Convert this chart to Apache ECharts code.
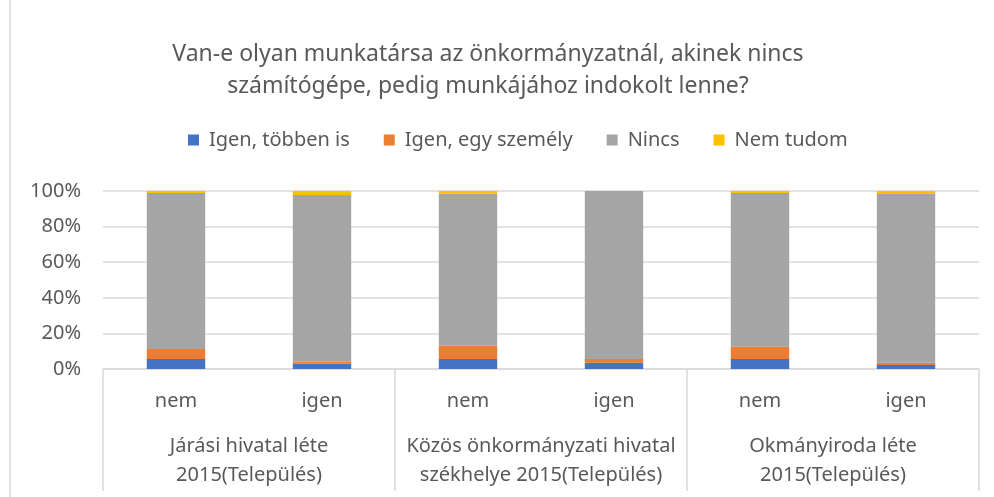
<!DOCTYPE html>
<html>
<head>
<meta charset="utf-8">
<script src="https://cdn.jsdelivr.net/npm/echarts@6/dist/echarts.min.js"></script>
<style>
  html, body { margin: 0; padding: 0; background: #fff; }
  #main { width: 994px; height: 497px; }
</style>
</head>
<body>
<div id="main"></div>
<script>
  // kategóriák
  var subLabels = ['nem', 'igen', 'nem', 'igen', 'nem', 'igen'];
  var groupLabels = ['Járási hivatal léte\n2015(Település)', 'Közös önkormányzati hivatal\nszékhelye 2015(Település)', 'Okmányiroda léte\n2015(Település)'];
  var seriesNames = ['Igen, többen is', 'Igen, egy személy', 'Nincs', 'Nem tudom'];

  // értékek (%)
  var tobbenIs = [5.6, 3.0, 5.6, 3.5, 5.6, 2.2];
  var egySzemely = [5.6, 1.1, 7.5, 2.1, 6.9, 1.3];
  var nincs = [87.7, 93.7, 85.4, 94.4, 86.4, 94.8];
  var nemTudom = [1.1, 2.2, 1.5, 0, 1.1, 1.7];

  var colors = ['#4472c4', '#ed7d31', '#a5a5a5', '#ffc000'];
  var font = 'Noto Sans';
  var txt = '#595959';

  var chart = echarts.init(document.getElementById('main'));
  var values = [tobbenIs, egySzemely, nincs, nemTudom];

  chart.setOption({
    animation: false,
    textStyle: { fontFamily: font },
    title: {
      text: 'Van-e olyan munkatársa az önkormányzatnál, akinek nincs\nszámítógépe, pedig munkájához indokolt lenne?',
      left: 483,
      top: 33,
      textAlign: 'center',
      textStyle: { color: txt, fontSize: 23, fontWeight: 'normal', fontFamily: font, lineHeight: 32 }
    },
    legend: {
      data: seriesNames,
      left: 183,
      top: 125,
      icon: 'rect',
      itemWidth: 11,
      itemHeight: 11,
      itemGap: 34,
      textStyle: { color: txt, fontSize: 20, fontFamily: font, padding: [0, 0, 0, 5] }
    },
    grid: { left: 103, right: 15, top: 191, bottom: 128 },
    graphic: [{
      type: 'line',
      shape: { x1: 10, y1: 0, x2: 10, y2: 497 },
      style: { stroke: '#d9d9d9', lineWidth: 1.5 }
    }],
    xAxis: [{
      type: 'category',
      data: subLabels,
      axisLine: { lineStyle: { color: '#d9d9d9', width: 1.5 } },
      axisTick: { show: false },
      axisLabel: { color: txt, fontSize: 20, fontFamily: font, margin: 22 }
    }, {
      type: 'category',
      data: groupLabels,
      position: 'bottom',
      axisLine: { show: false },
      axisTick: { show: true, length: 122, lineStyle: { color: '#d9d9d9', width: 1.5 } },
      axisLabel: { color: txt, fontSize: 20, fontFamily: font, margin: 63, lineHeight: 29, interval: 0 }
    }],
    yAxis: {
      type: 'value',
      min: 0,
      max: 100,
      interval: 20,
      axisLine: { show: false },
      axisTick: { show: false },
      axisLabel: { formatter: '{value}%', color: txt, fontSize: 20, fontFamily: font, margin: 22 },
      splitLine: { lineStyle: { color: '#d9d9d9', width: 1.5 } }
    },
    series: seriesNames.map(function (name, i) {
      return {
        name: name,
        type: 'bar',
        stack: 'total',
        barWidth: '40%',
        xAxisIndex: 0,
        itemStyle: { color: colors[i] },
        data: values[i]
      };
    })
  });
</script>
</body>
</html>
